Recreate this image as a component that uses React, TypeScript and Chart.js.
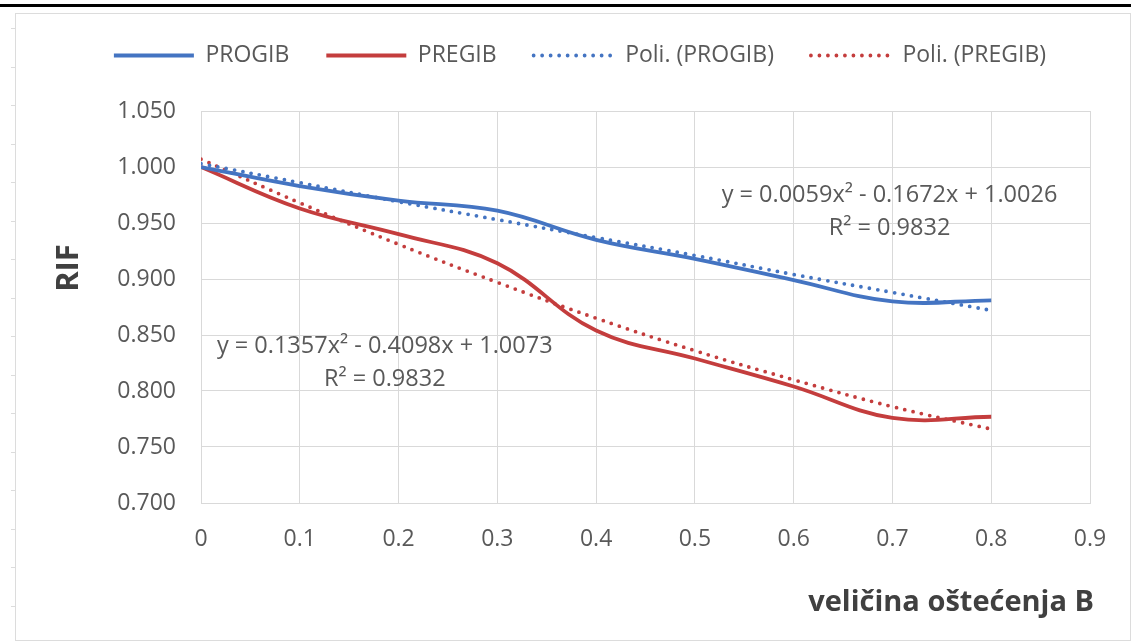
import { useEffect, useRef } from 'react'
import { Chart, registerables } from 'chart.js'

Chart.register(...registerables)

// damage size B on the x axis
const damageSizes = [0, 0.1, 0.2, 0.3, 0.4, 0.5, 0.6, 0.7, 0.8]
const progib = [1.0, 0.983, 0.97, 0.961, 0.935, 0.918, 0.899, 0.88, 0.881]
const pregib = [1.0, 0.963, 0.94, 0.914, 0.854, 0.829, 0.804, 0.776, 0.777]
const poliProgib = [1.003, 0.986, 0.969, 0.953, 0.937, 0.921, 0.904, 0.888, 0.872]
const poliPregib = [1.007, 0.968, 0.931, 0.897, 0.865, 0.836, 0.81, 0.786, 0.766]
const seriesNames = ['PROGIB', 'PREGIB', 'Poli. (PROGIB)', 'Poli. (PREGIB)']
const progibEquation = ['y = 0.0059x² - 0.1672x + 1.0026', 'R² = 0.9832']
const pregibEquation = ['y = 0.1357x² - 0.4098x + 1.0073', 'R² = 0.9832']
const yTitle = 'RIF'
const xTitle = 'veličina oštećenja B'

const BLUE = '#4474c2'
const RED = '#c43d3d'
const TEXT = '#595959'
const GRID = '#d9d9d9'
const FONT = "'Open Sans', sans-serif"

const toPoints = (ys: number[]) => damageSizes.map((x, i) => ({ x, y: ys[i] }))

const decorPlugin = {
  id: 'decor',
  beforeInit(chart: any) {
    const legend = chart.legend
    if (!legend) return
    const fit = legend.fit
    legend.fit = function () {
      fit.call(this)
      this.height = 104
    }
  },
  beforeDraw(chart: any) {
    const { ctx, width, height } = chart
    ctx.save()
    ctx.fillStyle = '#fff'
    ctx.fillRect(0, 0, width, height)
    // outer frame like the pasted screenshot
    ctx.strokeStyle = '#dcdcdc'
    ctx.lineWidth = 1
    ctx.strokeRect(15.5, 13.5, width - 16, height - 15)
    for (let y = 28; y < height; y += 38.5) {
      ctx.beginPath()
      ctx.moveTo(11, Math.round(y) + 0.5)
      ctx.lineTo(15, Math.round(y) + 0.5)
      ctx.stroke()
    }
    ctx.fillStyle = '#000'
    ctx.fillRect(0, 4, width, 3)
    ctx.restore()
  },
  afterDatasetsDraw(chart: any) {
    const { ctx } = chart
    const xs = chart.scales.x
    const ys = chart.scales.y
    ctx.save()
    ctx.fillStyle = TEXT
    ctx.font = `23.5px ${FONT}`
    ctx.textAlign = 'center'
    ctx.textBaseline = 'middle'
    const drawEq = (lines: string[], xv: number, yv: number) => {
      const px = xs.getPixelForValue(xv)
      const py = ys.getPixelForValue(yv)
      lines.forEach((t, i) => ctx.fillText(t, px, py + i * 33))
    }
    drawEq(progibEquation, 0.697, 0.975)
    drawEq(pregibEquation, 0.186, 0.84)
    ctx.restore()
  },
  afterDraw(chart: any) {
    const { ctx, chartArea } = chart
    ctx.save()
    ctx.fillStyle = '#404040'
    ctx.font = `bold 31px ${FONT}`
    ctx.textAlign = 'center'
    ctx.textBaseline = 'middle'
    ctx.translate(69, 268)
    ctx.rotate(-Math.PI / 2)
    ctx.fillText(yTitle, 0, 0)
    ctx.restore()
    ctx.save()
    ctx.fillStyle = '#404040'
    ctx.font = `bold 29px ${FONT}`
    ctx.textAlign = 'right'
    ctx.textBaseline = 'middle'
    ctx.fillText(xTitle, chartArea.right + 4, 603)
    ctx.restore()
  },
}

export default function App() {
  const canvasRef = useRef<HTMLCanvasElement>(null)
  const chartRef = useRef<Chart | null>(null)

  useEffect(() => {
    if (!canvasRef.current) return
    const ctx = canvasRef.current.getContext('2d')
    if (!ctx) return

    const solid = (label: string, data: number[], color: string) => ({
      label,
      data: toPoints(data),
      borderColor: color,
      backgroundColor: color,
      borderWidth: 3.8,
      tension: 0.4,
      pointRadius: 0,
      pointStyle: 'line',
      fill: false,
    })
    const dotted = (label: string, data: number[], color: string) => ({
      ...solid(label, data, color),
      borderWidth: 3.8,
      borderDash: [0, 8.5],
      borderCapStyle: 'round',
    })

    chartRef.current = new Chart(ctx, {
      type: 'line',
      data: {
        datasets: [
          solid(seriesNames[0], progib, BLUE),
          solid(seriesNames[1], pregib, RED),
          dotted(seriesNames[2], poliProgib, BLUE),
          dotted(seriesNames[3], poliPregib, RED),
        ] as any,
      },
      plugins: [decorPlugin],
      options: {
        animation: false,
        responsive: true,
        maintainAspectRatio: false,
        layout: { padding: { top: 7, right: 41, left: 70, bottom: 0 } },
        plugins: {
          tooltip: { enabled: false },
          legend: {
            position: 'top',
            labels: {
              usePointStyle: true,
              pointStyleWidth: 80,
              padding: 37,
              color: TEXT,
              font: { family: FONT, size: 23 },
              generateLabels: (chart: any) =>
                Chart.defaults.plugins.legend.labels.generateLabels(chart).map((item: any) => {
                  const ds: any = chart.data.datasets[item.datasetIndex]
                  return {
                    ...item,
                    lineWidth: ds.borderWidth,
                    lineDash: ds.borderDash || [],
                    lineCap: ds.borderCapStyle || 'butt',
                    strokeStyle: ds.borderColor,
                  }
                }),
            },
          },
        },
        scales: {
          x: {
            type: 'linear',
            min: 0,
            max: 0.9,
            ticks: {
              stepSize: 0.1,
              padding: 23,
              color: TEXT,
              font: { family: FONT, size: 23 },
              callback: (v: any) => Number(v).toFixed(1).replace(/\.0$/, ''),
            },
            grid: { color: GRID, drawTicks: false },
            border: { color: GRID },
            afterFit: (s: any) => {
              s.height = 139
            },
          },
          y: {
            min: 0.7,
            max: 1.05,
            ticks: {
              stepSize: 0.05,
              padding: 25,
              color: TEXT,
              font: { family: FONT, size: 23 },
              callback: (v: any) => Number(v).toFixed(3),
            },
            grid: { color: GRID, drawTicks: false },
            border: { color: GRID },
            afterFit: (s: any) => {
              s.width = 131
            },
          },
        },
      },
    })

    return () => {
      if (chartRef.current) {
        chartRef.current.destroy()
        chartRef.current = null
      }
    }
  }, [])

  return (
    <div style={{ position: 'absolute', left: 0, top: 0, width: 1131, height: 642 }}>
      <canvas ref={canvasRef} />
    </div>
  )
}
